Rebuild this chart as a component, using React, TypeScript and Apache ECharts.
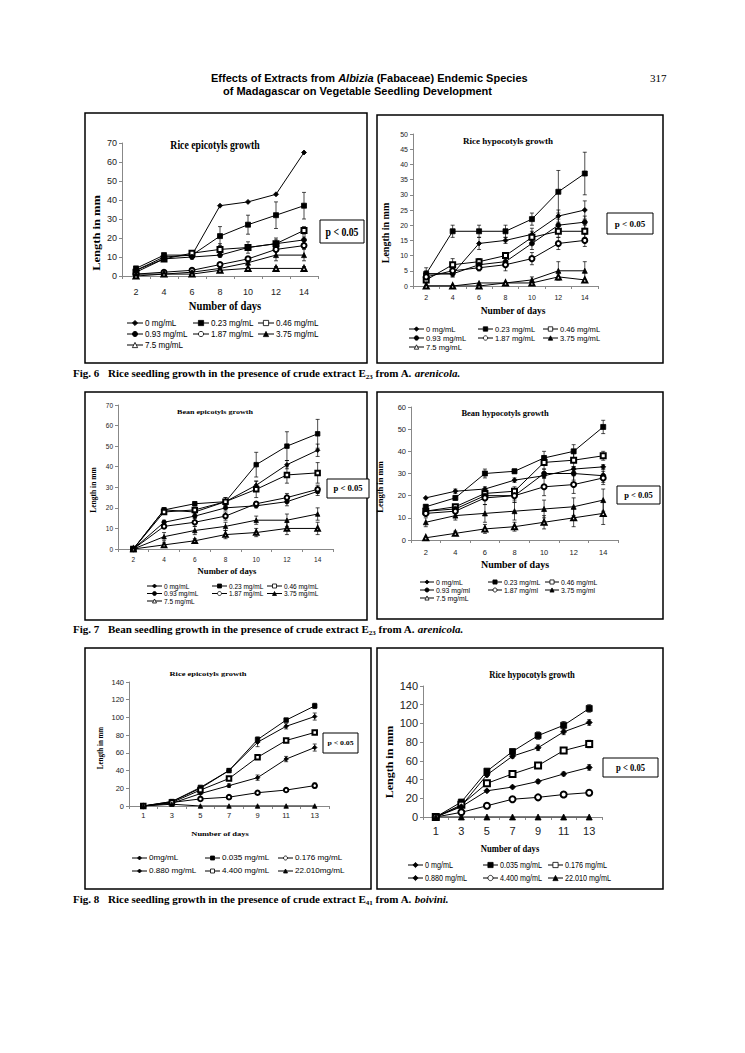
import React, { useEffect, useRef } from "react";
import * as echarts from "echarts";

// ---------- categories (days) ----------
const daysE23 = ["2", "4", "6", "8", "10", "12", "14"];
const daysE41 = ["1", "3", "5", "7", "9", "11", "13"];

// ---------- legend labels ----------
const labelsE23 = ["0 mg/mL", "0.23 mg/mL", "0.46 mg/mL", "0.93 mg/mL", "1.87 mg/mL", "3.75 mg/mL", "7.5 mg/mL"];
const labelsBeanHypo = ["0 mg/mL", "0.23 mg/mL", "0.46 mg/mL", "0.93 mg/ml", "1.87 mg/ml", "3.75 mg/ml", "7.5 mg/mL"];
const labelsRiceEpiE41 = ["0mg/mL", "0.035 mg/mL", "0.176 mg/mL", "0.880 mg/mL", "4.400 mg/mL", "22.010mg/mL"];
const labelsRiceHypoE41 = ["0 mg/mL", "0.035 mg/mL", "0.176 mg/mL", "0.880 mg/mL", "4.400 mg/mL", "22.010 mg/mL"];

// ---------- Fig 6: rice epicotyls (E23) ----------
const riceEpiE23 = [
  [3, 10, 11, 37, 39, 43, 65],
  [4, 11, 11, 21, 27, 32, 37],
  [2, 9, 12, 14, 15, 17, 24],
  [3, 9, 10, 11, 15, 17, 19],
  [1, 2, 3, 6, 9, 14, 16],
  [1, 1, 2, 4, 7, 11, 11],
  [0, 1, 1, 3, 4, 4, 4],
];
const riceEpiE23Err = [
  [0, 1, 0, 0, 0, 0, 0],
  [0, 1, 1, 5, 5, 7, 7],
  [0, 1, 1, 3, 3, 3, 2],
  [0, 1, 1, 1, 1, 2, 2],
  [0, 0, 1, 1, 1, 1, 1],
  [0, 0, 0, 1, 1, 3, 3],
  [0, 0, 0, 0, 0, 1, 1],
];
// ---------- Fig 6: rice hypocotyls (E23) ----------
const riceHypoE23 = [
  [4, 4, 14, 15, 17, 23, 25],
  [4, 18, 18, 18, 22, 31, 37],
  [2, 7, 8, 10, 16, 18, 18],
  [4, 4, 7, 8, 14, 20, 21],
  [3, 5, 6, 7, 9, 14, 15],
  [0, 0, 1, 1, 2, 5, 5],
  [0, 0, 0, 1, 1, 3, 2],
];
const riceHypoE23Err = [
  [2, 1, 2, 1, 2, 2, 3],
  [0, 2, 2, 2, 2, 7, 7],
  [1, 2, 1, 1, 2, 2, 2],
  [1, 1, 1, 1, 2, 2, 2],
  [1, 1, 1, 2, 2, 2, 2],
  [0, 0, 0, 0, 1, 3, 3],
  [0, 0, 0, 0, 0, 1, 0],
];
// ---------- Fig 7: bean epicotyls (E23) ----------
const beanEpiE23 = [
  [0, 19, 18, 23, 31, 41, 48],
  [0, 19, 22, 23, 41, 50, 56],
  [0, 18, 19, 23, 29, 36, 37],
  [0, 13, 16, 20, 21, 23, 28],
  [0, 11, 13, 16, 22, 25, 29],
  [0, 6, 9, 11, 14, 14, 17],
  [0, 2, 4, 7, 8, 10, 10],
];
const beanEpiE23Err = [
  [0, 1, 1, 1, 2, 2, 3],
  [0, 1, 1, 2, 6, 7, 7],
  [0, 1, 1, 2, 4, 4, 5],
  [0, 1, 1, 1, 1, 2, 2],
  [0, 1, 2, 2, 1, 2, 2],
  [0, 2, 2, 2, 2, 3, 3],
  [0, 1, 1, 2, 2, 3, 3],
];
// ---------- Fig 7: bean hypocotyls (E23) ----------
const beanHypoE23 = [
  [19, 22, 23, 27, 29, 32, 33],
  [15, 19, 30, 31, 37, 40, 51],
  [13, 15, 21, 22, 35, 36, 38],
  [13, 14, 20, 20, 30, 30, 29],
  [12, 13, 19, 20, 24, 25, 28],
  [8, 11, 12, 13, 14, 15, 18],
  [1, 3, 5, 6, 8, 10, 12],
];
const beanHypoE23Err = [
  [0, 1, 1, 1, 1, 1, 1],
  [1, 1, 2, 1, 3, 3, 3],
  [1, 1, 1, 2, 3, 3, 2],
  [1, 1, 2, 2, 2, 3, 3],
  [1, 1, 3, 3, 4, 4, 3],
  [2, 2, 4, 4, 4, 4, 5],
  [0, 1, 2, 2, 3, 4, 5],
];
// ---------- Fig 8: rice epicotyls (E41) ----------
const riceEpiE41 = [
  [0, 5, 20, 40, 72, 90, 101],
  [0, 5, 21, 40, 75, 97, 113],
  [0, 4, 8, 10, 15, 18, 23],
  [0, 3, 14, 23, 32, 53, 66],
  [0, 4, 18, 31, 55, 74, 83],
  [0, 2, 0, 0, 0, 0, 0],
];
const riceEpiE41Err = [
  [0, 1, 1, 2, 5, 3, 4],
  [0, 1, 1, 2, 3, 2, 3],
  [0, 0, 0, 1, 1, 1, 3],
  [0, 0, 1, 2, 3, 3, 4],
  [0, 0, 1, 1, 2, 1, 1],
  [0, 0, 0, 0, 0, 0, 0],
];
// ---------- Fig 8: rice hypocotyls (E41) ----------
const riceHypoE41 = [
  [0, 12, 45, 65, 74, 91, 101],
  [0, 16, 49, 70, 87, 98, 116],
  [0, 13, 36, 46, 55, 71, 78],
  [0, 11, 28, 32, 38, 46, 53],
  [0, 5, 12, 19, 21, 24, 26],
  [0, 0, 0, 0, 0, 0, 0],
];
const riceHypoE41Err = [
  [0, 1, 2, 2, 3, 3, 3],
  [0, 1, 2, 2, 4, 4, 4],
  [0, 1, 2, 1, 2, 3, 4],
  [0, 1, 1, 1, 2, 2, 3],
  [0, 1, 1, 1, 2, 2, 2],
  [0, 0, 0, 0, 0, 0, 0],
];

const symE23 = ["diamond", "rect", "emptyRect", "circle", "emptyCircle", "triangle", "emptyTriangle"];
const symE41Epi = ["diamond", "rect", "emptyCircle", "diamond", "emptyRect", "triangle"];
const symE41Hypo = ["diamond", "rect", "emptyRect", "diamond", "emptyCircle", "triangle"];

const SERIF = '"Liberation Serif", "Times New Roman", serif';
const SANS = '"Liberation Sans", Arial, sans-serif';
const DIAMOND = "path://M5,0L10,5L5,10L0,5Z";

type Panel = {
  key: string;
  cats: string[];
  labels: string[];
  values: number[][];
  errors: number[][];
  symbols: string[];
  symSize: number;
  yMax: number;
  yInt: number;
  grid: { left: number; top: number; width: number; height: number };
  box: [number, number, number, number];
  tickFont: number;
  xMargin: number;
  sx: number;
  title: [string, number, number, number];
  yName: [number, number, number];
  xName: [number, number, number];
  pBox: [number, number, number, number, number];
  legend: { cols: number[]; top: number; rowH: number; font: number; itemW: number; sx: number };
};

const panels: Panel[] = [
  {
    key: "a", cats: daysE23, labels: labelsE23, values: riceEpiE23, errors: riceEpiE23Err, symbols: symE23, symSize: 5,
    yMax: 70, yInt: 10, grid: { left: 122, top: 143, width: 196, height: 133 }, box: [85, 113, 282, 250],
    tickFont: 9, xMargin: 11, sx: 0.85, title: ["Rice epicotyls growth", 215, 145, 11.5], yName: [97, 233, 12.5], xName: [225, 306, 12.5],
    pBox: [320, 220, 44, 23, 11.5], legend: { cols: [127, 193, 258], top: 323, rowH: 11, font: 9.5, itemW: 16, sx: 0.85 },
  },
  {
    key: "b", cats: daysE23, labels: labelsE23, values: riceHypoE23, errors: riceHypoE23Err, symbols: symE23, symSize: 5,
    yMax: 50, yInt: 5, grid: { left: 413, top: 134, width: 185, height: 152 }, box: [377, 115, 286, 248],
    tickFont: 7, xMargin: 8, sx: 1, title: ["Rice hypocotyls growth", 508, 141, 9], yName: [385, 233, 10], xName: [513, 311, 9.5],
    pBox: [607, 213, 46, 21, 9], legend: { cols: [409, 478, 543], top: 329, rowH: 9, font: 8, itemW: 15, sx: 0.95 },
  },
  {
    key: "c", cats: daysE23, labels: labelsE23, values: beanEpiE23, errors: beanEpiE23Err, symbols: symE23, symSize: 4.5,
    yMax: 70, yInt: 10, grid: { left: 118, top: 405, width: 215, height: 144 }, box: [85, 392, 282, 228],
    tickFont: 6.5, xMargin: 7, sx: 1.15, title: ["Bean epicotyls growth", 215, 412, 7], yName: [93, 490, 7.5], xName: [227, 572, 7.5],
    pBox: [327, 479, 42, 19, 7.5], legend: { cols: [147, 212, 267], top: 586, rowH: 7.5, font: 6.5, itemW: 15, sx: 1 },
  },
  {
    key: "d", cats: daysE23, labels: labelsBeanHypo, values: beanHypoE23, errors: beanHypoE23Err, symbols: symE23, symSize: 5,
    yMax: 60, yInt: 10, grid: { left: 411, top: 407, width: 207, height: 133 }, box: [377, 392, 286, 227],
    tickFont: 7.5, xMargin: 8, sx: 1, title: ["Bean hypocotyls growth", 505, 413, 8.5], yName: [380, 487, 8.5], xName: [515, 564, 10],
    pBox: [617, 486, 43, 18, 8.5], legend: { cols: [420, 488, 545], top: 582, rowH: 8, font: 7.5, itemW: 14, sx: 0.92 },
  },
  {
    key: "e", cats: daysE41, labels: labelsRiceEpiE41, values: riceEpiE41, errors: riceEpiE41Err, symbols: symE41Epi, symSize: 4.5,
    yMax: 140, yInt: 20, grid: { left: 129, top: 682, width: 200, height: 124 }, box: [85, 648, 286, 241],
    tickFont: 7.5, xMargin: 5, sx: 1.3, title: ["Rice epicotyls growth", 208, 674, 6.5], yName: [100, 748, 7], xName: [220, 834, 6.5],
    pBox: [323, 733, 35, 20, 6], legend: { cols: [132, 205, 278], top: 858, rowH: 13, font: 6.5, itemW: 15, sx: 1.25 },
  },
  {
    key: "f", cats: daysE41, labels: labelsRiceHypoE41, values: riceHypoE41, errors: riceHypoE41Err, symbols: symE41Hypo, symSize: 6,
    yMax: 140, yInt: 20, grid: { left: 423, top: 686, width: 179, height: 131 }, box: [377, 648, 286, 241],
    tickFont: 11, xMargin: 8, sx: 0.78, title: ["Rice hypocotyls growth", 532, 674, 11], yName: [390, 762, 12], xName: [510, 848, 11],
    pBox: [603, 758, 55, 19, 11], legend: { cols: [408, 483, 548], top: 865, rowH: 13, font: 9.5, itemW: 15, sx: 0.76 },
  },
];

const errRender = (_params: any, api: any) => {
  const x = api.value(0);
  const lo = api.coord([x, api.value(1)]);
  const hi = api.coord([x, api.value(2)]);
  const c = 2;
  const st = { stroke: "#000", lineWidth: 0.7 };
  return {
    type: "group",
    children: [
      { type: "line", shape: { x1: lo[0], y1: lo[1], x2: hi[0], y2: hi[1] }, style: st },
      { type: "line", shape: { x1: lo[0] - c, y1: lo[1], x2: lo[0] + c, y2: lo[1] }, style: st },
      { type: "line", shape: { x1: hi[0] - c, y1: hi[1], x2: hi[0] + c, y2: hi[1] }, style: st },
    ],
  };
};

function text(x: number, y: number, t: string, size: number, o: any = {}) {
  const align = o.align || "center";
  return {
    type: "text",
    x,
    y,
    rotation: o.rot || 0,
    scaleX: o.sx || 1,
    scaleY: o.sy || 1,
    silent: true,
    style: {
      text: t,
      fontSize: size,
      fontFamily: o.family || SERIF,
      fontWeight: o.weight || "bold",
      fontStyle: o.style || "normal",
      fill: "#000",
      align,
      textAlign: align,
      verticalAlign: "middle",
      textVerticalAlign: "middle",
      rich: o.rich,
    },
  };
}

function legendMarker(sym: string, cx: number, cy: number, s: number) {
  const h = s / 2;
  const empty = sym.startsWith("empty");
  const style = { fill: empty ? "#fff" : "#000", stroke: "#000", lineWidth: 0.8 };
  const base = sym.replace("empty", "").toLowerCase();
  if (base === "rect") return { type: "rect", silent: true, shape: { x: cx - h, y: cy - h, width: s, height: s }, style };
  if (base === "circle") return { type: "circle", silent: true, shape: { cx, cy, r: h }, style };
  if (base === "triangle")
    return { type: "polygon", silent: true, shape: { points: [[cx, cy - h], [cx + h, cy + h], [cx - h, cy + h]] }, style };
  return { type: "polygon", silent: true, shape: { points: [[cx, cy - h], [cx + h, cy], [cx, cy + h], [cx - h, cy]] }, style };
}

function buildOption() {
  const grid: any[] = [];
  const xAxis: any[] = [];
  const yAxis: any[] = [];
  const series: any[] = [];
  const elements: any[] = [];

  panels.forEach((p, i) => {
    grid.push({ ...p.grid, containLabel: false });
    xAxis.push({
      type: "category",
      gridIndex: i,
      data: p.cats,
      boundaryGap: true,
      axisLine: { lineStyle: { color: "#888", width: 1 } },
      axisTick: { show: true, length: 3, lineStyle: { color: "#888" } },
      axisLabel: { fontSize: p.tickFont, fontFamily: SANS, color: "#222", margin: p.xMargin },
    });
    yAxis.push({
      type: "value",
      gridIndex: i,
      min: 0,
      max: p.yMax,
      interval: p.yInt,
      axisLine: { show: true, lineStyle: { color: "#888", width: 1 } },
      axisTick: { show: true, length: 3, lineStyle: { color: "#888" } },
      splitLine: { show: false },
      axisLabel: { fontSize: p.tickFont, fontFamily: SANS, color: "#222", margin: 5 },
    });

    const errData: number[][] = [];
    p.values.forEach((vals, j) => {
      const sym = p.symbols[j];
      series.push({
        type: "line",
        name: `${p.key}|${p.labels[j]}`,
        xAxisIndex: i,
        yAxisIndex: i,
        data: vals,
        symbol: sym === "diamond" ? DIAMOND : sym,
        symbolSize: p.symSize,
        showAllSymbol: true,
        lineStyle: { color: "#000", width: 1 },
        itemStyle: { color: "#000", borderColor: "#000", borderWidth: 0.8 },
        emphasis: { disabled: true },
        z: 3,
      });
      vals.forEach((v, k) => {
        const e = p.errors[j][k];
        if (e > 0) errData.push([k, Math.max(0, v - e), v + e]);
      });
    });
    series.push({
      type: "custom",
      xAxisIndex: i,
      yAxisIndex: i,
      renderItem: errRender,
      data: errData,
      encode: { x: 0, y: [1, 2] },
      silent: true,
      clip: false,
      z: 2,
    });

    // legend (drawn by hand for exact column layout)
    const L = p.legend;
    p.labels.forEach((lab, j) => {
      const col = j % 3;
      const row = Math.floor(j / 3);
      const x0 = L.cols[col];
      const yc = L.top + row * L.rowH;
      elements.push({
        type: "line",
        silent: true,
        shape: { x1: x0, y1: yc, x2: x0 + L.itemW, y2: yc },
        style: { stroke: "#000", lineWidth: 1 },
      });
      elements.push(legendMarker(p.symbols[j], x0 + L.itemW / 2, yc, Math.max(4, L.font * 0.55)));
      elements.push(text(x0 + L.itemW + 2, yc, lab, L.font, { align: "left", family: SANS, weight: "normal", sx: L.sx }));
    });

    const [bx, by, bw, bh] = p.box;
    elements.push({
      type: "rect",
      shape: { x: bx, y: by, width: bw, height: bh },
      style: { fill: "none", stroke: "#000", lineWidth: 1.5 },
      silent: true,
    });
    elements.push(text(p.title[1], p.title[2], p.title[0], p.title[3], { sx: p.sx }));
    elements.push(text(p.yName[0], p.yName[1], "Length in mm", p.yName[2], { rot: Math.PI / 2, sy: p.sx }));
    elements.push(text(p.xName[0], p.xName[1], "Number of days", p.xName[2], { sx: p.sx }));
    const [px, py, pw, ph, ps] = p.pBox;
    elements.push({
      type: "rect",
      shape: { x: px, y: py, width: pw, height: ph },
      style: { fill: "#fff", stroke: "#000", lineWidth: 1 },
      silent: true,
    });
    elements.push(text(px + pw / 2, py + ph / 2, "p < 0.05", ps, { sx: p.sx }));
  });

  // page header
  const hRich = {
    n: { fontSize: 11, fontWeight: "bold", fontFamily: SANS, fill: "#000" },
    it: { fontSize: 11, fontWeight: "bold", fontStyle: "italic", fontFamily: SANS, fill: "#000" },
  };
  elements.push(
    text(211, 78, "{n|Effects of Extracts from }{it|Albizia}{n| (Fabaceae) Endemic Species}", 11, {
      align: "left",
      family: SANS,
      rich: hRich,
    })
  );
  elements.push(
    text(223, 91, "of Madagascar on Vegetable Seedling Development", 11, { align: "left", family: SANS })
  );
  elements.push(text(650, 78, "317", 11, { align: "left", weight: "normal" }));

  // captions
  const capRich = {
    b: { fontSize: 11, fontWeight: "bold", fontFamily: SERIF, fill: "#000", lineHeight: 14 },
    s: { fontSize: 7, fontWeight: "bold", fontFamily: SERIF, fill: "#000", lineHeight: 8, verticalAlign: "bottom" },
    i: { fontSize: 11, fontWeight: "bold", fontStyle: "italic", fontFamily: SERIF, fill: "#000", lineHeight: 14 },
  };
  const caps: [number, string, string, string, string, string][] = [
    [373, "Fig. 6", "Rice seedling growth in the presence of crude extract E", "23", "A.", "arenicola."],
    [629, "Fig. 7", "Bean seedling growth in the presence of crude extract E", "23", "A.", "arenicola."],
    [899, "Fig. 8", "Rice seedling growth in the presence of crude extract E", "41", "A.", "boivini."],
  ];
  caps.forEach(([y, fig, body, sub, genus, sp]) => {
    elements.push(text(73, y, fig, 11, { align: "left" }));
    elements.push(
      text(108, y, `{b|${body}}{s|${sub}}{b| from ${genus} }{i|${sp}}`, 11, { align: "left", rich: capRich })
    );
  });

  return {
    animation: false,
    backgroundColor: "#fff",
    grid,
    xAxis,
    yAxis,
    series,
    graphic: { elements },
  };
}

export default function App() {
  const ref = useRef<HTMLDivElement>(null);
  useEffect(() => {
    if (!ref.current) return;
    const chart = echarts.init(ref.current, undefined, { renderer: "svg" });
    chart.setOption(buildOption() as any);
    return () => chart.dispose();
  }, []);
  return (
    <div
      ref={ref}
      style={{ position: "absolute", left: 0, top: 0, width: 745, height: 1053, background: "#fff" }}
    />
  );
}
